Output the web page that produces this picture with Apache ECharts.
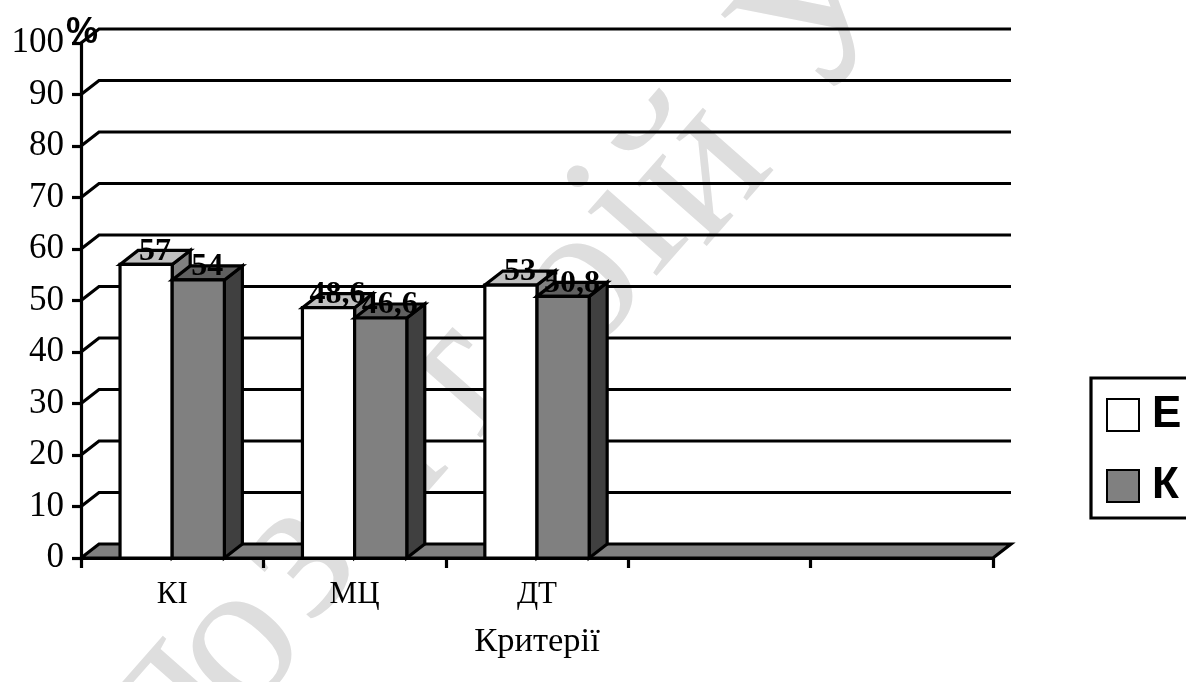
<!DOCTYPE html>
<html><head><meta charset="utf-8">
<style>html,body{margin:0;padding:0;background:#fff}#c{width:1186px;height:682px}</style>
<script src="https://cdn.jsdelivr.net/npm/echarts@6/dist/echarts.min.js"></script>
</head><body><div id="c"></div>
<script>
const categories = ['КІ', 'МЦ', 'ДТ', '', ''];
const seriesE = [57, 48.6, 53];
const seriesK = [54, 46.6, 50.8];
const labelsE = ['57', '48,6', '53'];
const labelsK = ['54', '46,6', '50,8'];
const gridValues = [10, 20, 30, 40, 50, 60, 70, 80, 90, 100];
const waterLetters = ['п', 'о', 'з', 'и', 'т', 'о', 'і', 'й', 'У'];
const waterX = [160, 237, 297, 375, 455, 578, 632, 700, 825];
const waterY = [700, 646, 560, 470, 385, 288, 222, 172, 18];

const DX = 18, DY = 14, LW = 3.2, BAR = 0.286;
const SERIF = '"Liberation Serif","Times New Roman",serif';
const SANS = '"Liberation Sans",Arial,sans-serif';

function barRender(offsetIdx, front, top, side) {
  return function (params, api) {
    const base = api.coord([api.value(0), 0]);
    const tip = api.coord([api.value(0), api.value(1)]);
    const w = api.size([1, 0])[0] * BAR;
    const x0 = base[0] - w + offsetIdx * w, x1 = x0 + w;
    const s = { stroke: '#000', lineWidth: LW, lineJoin: 'miter' };
    return { type: 'group', children: [
      { type: 'polygon', shape: { points: [[x1, tip[1]], [x1 + DX, tip[1] - DY], [x1 + DX, base[1] - DY], [x1, base[1]]] },
        style: Object.assign({ fill: side }, s) },
      { type: 'polygon', shape: { points: [[x0, tip[1]], [x0 + DX, tip[1] - DY], [x1 + DX, tip[1] - DY], [x1, tip[1]]] },
        style: Object.assign({ fill: top }, s) },
      { type: 'rect', shape: { x: x0, y: tip[1], width: w, height: base[1] - tip[1] },
        style: Object.assign({ fill: front }, s) }
    ] };
  };
}
function labelRender(offsetIdx, texts) {
  return function (params, api) {
    const tip = api.coord([api.value(0), api.value(1)]);
    const w = api.size([1, 0])[0] * BAR;
    return { type: 'text', style: {
      x: tip[0] - w + offsetIdx * w + w / 2 + DX / 2, y: tip[1] - DY + 1,
      text: texts[params.dataIndex], align: 'center', verticalAlign: 'middle',
      font: 'bold 32px ' + SERIF, fill: '#000' } };
  };
}
const chart = echarts.init(document.getElementById('c'), null, { renderer: 'canvas' });
chart.setOption({
  animation: false,
  backgroundColor: '#fff',
  grid: { left: 81, top: 43, width: 912, height: 515, containLabel: false },
  xAxis: {
    type: 'category', data: categories,
    axisLine: { lineStyle: { color: '#000', width: LW } },
    axisTick: { show: true, length: 10, alignWithLabel: false, interval: 0, lineStyle: { color: '#000', width: LW } },
    axisLabel: { interval: 0, color: '#000', fontFamily: SERIF, fontSize: 31, margin: 21 },
    name: 'Критерії', nameLocation: 'middle', nameGap: 66,
    nameTextStyle: { color: '#000', fontFamily: SERIF, fontSize: 34.5 },
    splitLine: { show: false }
  },
  yAxis: {
    type: 'value', min: 0, max: 100, interval: 10,
    axisLine: { show: true, lineStyle: { color: '#000', width: LW } },
    axisTick: { show: true, length: 9, lineStyle: { color: '#000', width: LW } },
    axisLabel: { color: '#000', fontFamily: SERIF, fontSize: 35, margin: 17, padding: [3, 0, 0, 0] },
    splitLine: { show: false }
  },
  legend: {
    left: 1091, top: 378, orient: 'vertical', padding: [15, 60, 10, 15],
    borderColor: '#000', borderWidth: LW, backgroundColor: '#fff',
    itemWidth: 32, itemHeight: 32, itemGap: 27, icon: 'rect',
    data: ['Е', 'К'], selectedMode: false,
    textStyle: { color: '#000', fontFamily: SANS, fontWeight: 'bold', fontSize: 44, padding: [0, 0, 0, 8] }
  },
  graphic: waterLetters.map((ch, i) => ({
    type: 'text', z: -10, x: waterX[i], y: waterY[i], rotation: 0.85,
    style: { text: ch, align: 'center', verticalAlign: 'middle', font: '205px ' + SERIF, fill: '#dedede' }
  })).concat([{ type: 'text', z: 20, x: 82, y: 33,
    style: { text: '%', align: 'center', verticalAlign: 'middle', font: 'bold 36px ' + SANS, fill: '#000' } }]),
  tooltip: { show: false },
  series: [
    { type: 'custom', name: 'floor', z: 1, silent: true, data: [[0]],
      renderItem(p, api) {
        const l = api.coord([0, 0])[1], xs = p.coordSys.x, xe = xs + p.coordSys.width;
        return { type: 'polygon', shape: { points: [[xs, l], [xs + DX, l - DY], [xe + DX, l - DY], [xe, l]] },
          style: { fill: '#808080', stroke: '#000', lineWidth: LW } };
      } },
    { type: 'custom', name: 'grid', z: 1, silent: true, data: gridValues.map(v => [v]),
      encode: { y: 0 },
      renderItem(p, api) {
        const y = api.coord([0, api.value(0)])[1], xs = p.coordSys.x, xe = xs + p.coordSys.width;
        return { type: 'polyline', shape: { points: [[xs, y], [xs + DX, y - DY], [xe + DX, y - DY]] },
          style: { fill: null, stroke: '#000', lineWidth: LW } };
      } },
    { type: 'custom', name: 'Е', z: 3, silent: true, itemStyle: { color: '#fff', borderColor: '#000', borderWidth: 2 },
      data: seriesE.map((v, i) => [i, v]), encode: { x: 0, y: 1 },
      renderItem: barRender(0, '#ffffff', '#c0c0c0', '#808080') },
    { type: 'custom', name: 'К', z: 4, silent: true, itemStyle: { color: '#808080', borderColor: '#000', borderWidth: 2 },
      data: seriesK.map((v, i) => [i, v]), encode: { x: 0, y: 1 },
      renderItem: barRender(1, '#808080', '#606060', '#404040') },
    { type: 'custom', name: 'labelsE', z: 6, silent: true, data: seriesE.map((v, i) => [i, v]), encode: { x: 0, y: 1 },
      renderItem: labelRender(0, labelsE) },
    { type: 'custom', name: 'labelsK', z: 6, silent: true, data: seriesK.map((v, i) => [i, v]), encode: { x: 0, y: 1 },
      renderItem: labelRender(1, labelsK) }
  ]
});
</script></body></html>
